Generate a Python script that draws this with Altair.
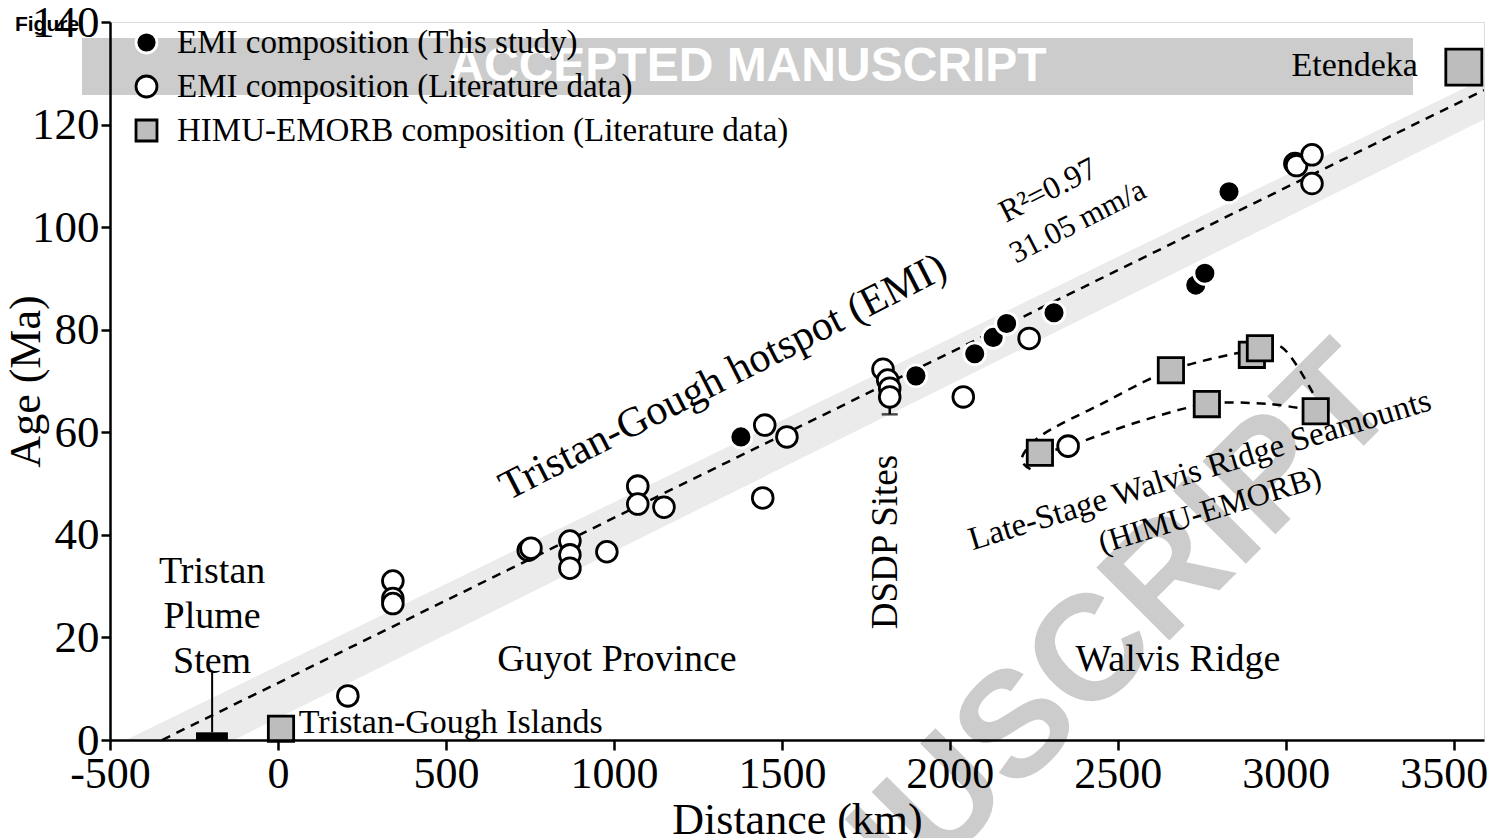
import altair as alt
import pandas as pd

# ---------------- data ----------------
# EMI composition (This study)  -- filled circles
this_km = [1378, 1899, 2074, 2129, 2169, 2310, 2732, 2759, 2831]
this_age = [59.1, 71.0, 75.3, 78.5, 81.2, 83.3, 88.7, 91.0, 106.9]

# EMI composition (Literature data) -- open circles
lit_km = [208, 342, 342, 342, 745, 753, 869, 869, 869, 979, 1071, 1071, 1149,
          1443, 1449, 1515, 1801, 1815, 1821, 1821, 2040, 2236, 2352,
          3027, 3032, 3078, 3078]
lit_age = [8.6, 31.0, 27.6, 26.6, 37.0, 37.4, 38.8, 36.1, 33.5, 36.7, 49.5, 46.0, 45.4,
           47.2, 61.4, 59.1, 72.3, 70.2, 68.6, 66.9, 66.9, 78.3, 57.3,
           112.4, 112.0, 114.1, 108.5]

# HIMU-EMORB composition (Literature data) -- grey squares
himu_km = [2268, 2658, 2765, 2899, 2923, 3089]
himu_age = [56.0, 72.1, 65.5, 75.1, 76.4, 64.1]
tg_islands_km = [9]
tg_islands_age = [2.2]
etendeka_km = [3530]
etendeka_age = [131.2]

# regression line (31.05 mm/a) and shaded band
reg_km = [-345, 3590]
reg_age = [0.0, 126.7]
band_km = [-500, 3590]
band_hi = [-1.5, 129.0]
band_lo = [-12.0, 121.0]

# late-stage Walvis Ridge dashed envelopes
upper_km = [2240, 2214, 2275, 2450, 2658, 2899, 2990, 3082]
upper_age = [52.8, 55.0, 59.5, 65.5, 72.1, 76.0, 76.5, 67.5]
lower_km = [2268, 2352, 2560, 2765, 2950, 3089]
lower_age = [56.0, 57.3, 62.0, 65.5, 65.5, 64.1]

# Tristan plume stem
stem_km = [-244, -149]
stem_age = [0.0, 1.5]
stem_line_km = [-196]
stem_line_age = [1.5, 13.5]

# DSDP error bar
dsdp_km = [1821]
dsdp_err = [63.5, 70.0]

x_ticks = [-500, 0, 500, 1000, 1500, 2000, 2500, 3000, 3500]
y_ticks = [0, 20, 40, 60, 80, 100, 120, 140]

G_THIS = "EMI composition (This study)"
G_LIT = "EMI composition (Literature data)"
G_HIMU = "HIMU-EMORB composition (Literature data)"
groups = [G_THIS, G_LIT, G_HIMU]

SERIF = "Liberation Serif"
SANS = "Liberation Sans"

# ---------------- tables ----------------
rows = []
for k, a in zip(lit_km, lit_age):
    rows.append(dict(km=k, age=a, group=G_LIT, sz=430))
for k, a in zip(this_km, this_age):
    rows.append(dict(km=k, age=a, group=G_THIS, sz=480))
for k, a in zip(himu_km + tg_islands_km, himu_age + tg_islands_age):
    rows.append(dict(km=k, age=a, group=G_HIMU, sz=640))
for k, a in zip(etendeka_km, etendeka_age):
    rows.append(dict(km=k, age=a, group=G_HIMU, sz=1300))
pts = pd.DataFrame(rows)

xs = alt.Scale(domain=[-500, 3590], nice=False, zero=False)
ys = alt.Scale(domain=[0, 140], nice=False, zero=False)

xaxis = alt.Axis(values=x_ticks, title="Distance (km)", grid=False,
                 labelExpr="'' + datum.value",
                 labelFont=SERIF, labelFontSize=44, labelColor="black",
                 labelOffset={"condition": {"test": "datum.value == 3500", "value": -10}, "value": 0},
                 titleFont=SERIF, titleFontSize=44, titleFontWeight="normal",
                 titleColor="black", titleY=80, titleBaseline="middle",
                 tickSize=10, tickWidth=2.5, tickColor="black",
                 domainColor="black", domainWidth=2.5, labelPadding=2,
                 labelFlush=False, labelOverlap=False, zindex=1)
yaxis = alt.Axis(values=y_ticks, title="Age (Ma)", grid=False,
                 labelExpr="'' + datum.value",
                 labelFont=SERIF, labelFontSize=45, labelColor="black",
                 titleFont=SERIF, titleFontSize=44, titleFontWeight="normal",
                 titleColor="black", titleX=-84, titleY=359, titleAngle=270,
                 titleBaseline="middle", titleAlign="center",
                 tickSize=9, tickWidth=2.5, tickColor="black",
                 domainColor="black", domainWidth=2.5, labelPadding=2,
                 labelFlush=False, labelOverlap=False, zindex=1)

X = alt.X("km:Q", scale=xs, axis=xaxis)
Y = alt.Y("age:Q", scale=ys, axis=yaxis)

one = pd.DataFrame({"a": [0]})

# watermark banner
banner = alt.Chart(one).mark_rect(color="#cccccc").encode(
    x=alt.value(-28), x2=alt.value(1303), y=alt.value(16), y2=alt.value(73))
banner_txt = alt.Chart(one).mark_text(
    font=SANS, fontWeight="bold", fontSize=48, color="white",
    align="center", baseline="middle").encode(
    x=alt.value(638), y=alt.value(45), text=alt.value("ACCEPTED MANUSCRIPT"))
diag_txt = alt.Chart(one).mark_text(
    font=SANS, fontWeight="bold", fontSize=150, color="#cccccc",
    align="right", baseline="middle", angle=315).encode(
    x=alt.value(1262), y=alt.value(352), text=alt.value("ACCEPTED MANUSCRIPT"))
fig_txt = alt.Chart(one).mark_text(
    font=SANS, fontWeight="bold", fontSize=21, color="black",
    align="center", baseline="middle").encode(
    x=alt.value(-63), y=alt.value(3), text=alt.value("Figure"))

band = alt.Chart(pd.DataFrame({"km": band_km, "lo": band_lo, "hi": band_hi})).mark_area(
    color="#ebebeb", clip=True).encode(
    x=X, y=alt.Y("lo:Q", scale=ys, axis=yaxis), y2="hi:Q")

reg = alt.Chart(pd.DataFrame({"km": reg_km, "age": reg_age})).mark_line(
    color="black", strokeWidth=2.5, strokeDash=[9, 7], clip=True).encode(x=X, y=Y)

env_rows = []
for i, (k, a) in enumerate(zip(upper_km, upper_age)):
    env_rows.append(dict(km=k, age=a, curve="upper", o=i))
for i, (k, a) in enumerate(zip(lower_km, lower_age)):
    env_rows.append(dict(km=k, age=a, curve="lower", o=i))
env = alt.Chart(pd.DataFrame(env_rows)).mark_line(
    color="black", strokeWidth=2.5, strokeDash=[9, 7], interpolate="cardinal").encode(
    x=X, y=Y, detail="curve:N", order="o:Q")

stem_rect = alt.Chart(pd.DataFrame({"k1": [stem_km[0]], "k2": [stem_km[1]],
                                    "a1": [stem_age[0]], "a2": [stem_age[1]]})).mark_rect(
    color="black").encode(x=alt.X("k1:Q", scale=xs, axis=xaxis), x2="k2:Q",
                          y=alt.Y("a1:Q", scale=ys, axis=yaxis), y2="a2:Q")
stem_line = alt.Chart(pd.DataFrame({"km": stem_line_km, "a1": [stem_line_age[0]],
                                    "a2": [stem_line_age[1]]})).mark_rule(
    color="black", strokeWidth=2).encode(x=X, y=alt.Y("a1:Q", scale=ys, axis=yaxis), y2="a2:Q")

err = alt.Chart(pd.DataFrame({"km": dsdp_km, "a1": [dsdp_err[0]], "a2": [dsdp_err[1]]})).mark_rule(
    color="black", strokeWidth=2.5).encode(x=X, y=alt.Y("a1:Q", scale=ys, axis=yaxis), y2="a2:Q")
err_cap = alt.Chart(pd.DataFrame({"km": dsdp_km, "age": [dsdp_err[0]]})).mark_tick(
    color="black", thickness=2.5, size=16, orient="horizontal").encode(x=X, y=Y)

leg = alt.Legend(title=None, orient="none", legendX=20, legendY=4,
                 labelFont=SERIF, labelFontSize=33, labelColor="black", labelLimit=2000,
                 symbolSize=440, symbolStrokeWidth=2.8, rowPadding=10,
                 labelOffset=14, padding=0)
points = alt.Chart(pts).mark_point(filled=True, strokeWidth=2.8, opacity=1).encode(
    x=X, y=Y,
    shape=alt.Shape("group:N", scale=alt.Scale(domain=groups, range=["circle", "circle", "square"]), legend=leg),
    fill=alt.Fill("group:N", scale=alt.Scale(domain=groups, range=["black", "white", "#bdbdbd"]), legend=leg),
    stroke=alt.Stroke("group:N", scale=alt.Scale(domain=groups, range=["white", "black", "black"]), legend=leg),
    size=alt.Size("sz:Q", scale=None),
)

# annotations: text, km, age, angle, size, align
ann_text = ["Tristan-Gough hotspot (EMI)", "R²=0.97", "31.05 mm/a",
            "Late-Stage Walvis Ridge Seamounts", "(HIMU-EMORB)", "DSDP Sites",
            "Tristan", "Plume", "Stem", "Guyot Province", "Walvis Ridge",
            "Tristan-Gough Islands", "Etendeka"]
ann_km = [1324, 2292, 2381, 2744, 2774, 1810, -196, -196, -196, 1009, 2679, 62, 3205]
ann_age = [70.8, 107.2, 101.0, 52.6, 44.8, 38.6, 32.8, 24.0, 15.2, 15.6, 15.6, 3.4, 131.4]
ann_angle = [333, 333, 333, 343, 343, 270, 0, 0, 0, 0, 0, 0, 0]
ann_size = [42, 32, 31, 33, 32, 37, 38, 38, 38, 38, 38, 34, 34]
ann_align = ["center"] * 11 + ["left", "center"]

ann_layers = []
for t, k, a, ang, s, al in zip(ann_text, ann_km, ann_age, ann_angle, ann_size, ann_align):
    ann_layers.append(
        alt.Chart(pd.DataFrame({"km": [k], "age": [a], "t": [t]})).mark_text(
            font=SERIF, fontSize=s, angle=ang, align=al, baseline="middle",
            color="black").encode(x=X, y=Y, text="t:N"))

chart = alt.layer(
    banner, banner_txt, diag_txt, band, reg, env, stem_rect, stem_line, err, err_cap,
    points, *ann_layers, fig_txt
).properties(
    width=1374, height=718,
    autosize=alt.AutoSizeParams(type="none"),
    padding={"left": 102, "top": 14, "right": 3, "bottom": 98},
).configure_view(stroke="black", strokeWidth=2.5).configure(background="white")

chart.save("out.html", embed_options={"renderer": "svg", "actions": False})
